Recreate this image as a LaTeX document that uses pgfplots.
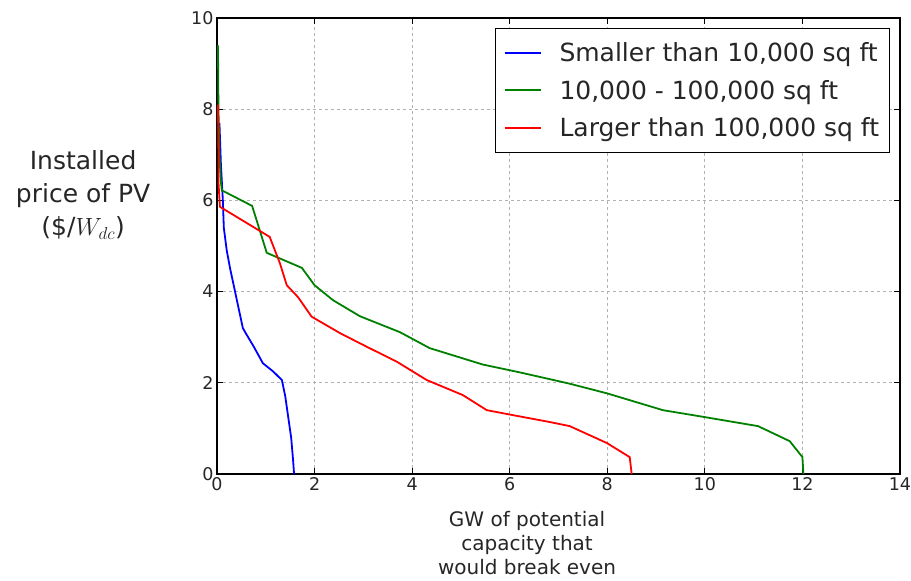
\documentclass[border=0pt]{standalone}
\usepackage{fontspec}
\setmainfont{DejaVu Sans}
\usepackage{pgfplots}
\pgfplotsset{compat=1.18}

\definecolor{mplblue}{rgb}{0,0,1}
\definecolor{mplgreen}{rgb}{0,0.5,0}
\definecolor{mplred}{rgb}{1,0,0}

\begin{document}
\begin{tikzpicture}
  \begin{axis}[
    scale only axis,
    width=683pt, height=456pt,
    xmin=0, xmax=14, ymin=0, ymax=10,
    xtick={0,2,...,14}, ytick={0,2,...,10},
    /pgf/number format/assume math mode=true,
    tick label style={font=\fontsize{17.5}{19}\selectfont, black!85},
    tick align=inside, major tick length=6pt,
    tick style={black, line width=0.8pt},
    axis line style={line width=1.2pt},
    grid=major, grid style={gray!60, dashed, line width=0.8pt},
    xlabel={GW of potential\\capacity that\\would break even},
    xlabel style={font=\fontsize{20}{24}\selectfont, align=center, black!85,
      at={(axis description cs:0.454,-0.152)}, anchor=center},
    ylabel={Installed\\price of PV\\(\$/$W_{dc}$)},
    ylabel style={font=\fontsize{25}{33}\selectfont, align=center, rotate=-90, black!85,
      at={(axis description cs:-0.196,0.612)}, anchor=center},
    legend style={at={(axis description cs:0.985,0.978)}, anchor=north east,
      font=\fontsize{25}{29}\selectfont, draw=black, line width=1.2pt,
      row sep=13pt, inner xsep=8pt, inner ysep=12pt, text=black!85,
      /tikz/every odd column/.append style={column sep=16pt}},
    legend cell align=left,
    legend image code/.code={
      \draw[#1, line width=2pt] (0pt,0pt) -- (36pt,0pt);},
  ]
    \addplot[mplblue, line width=1.8pt] coordinates {
      (0.05,7.7) (0.08,6.8) (0.12,6.0) (0.14,5.4) (0.2,4.9) (0.27,4.5)
      (0.37,4.0) (0.45,3.6) (0.53,3.2) (0.61,3.05) (0.75,2.8) (0.94,2.43)
      (1.15,2.25) (1.33,2.06) (1.4,1.7) (1.46,1.25) (1.52,0.8) (1.56,0.3) (1.58,0)
    };
    \addlegendentry{Smaller than 10,000 sq ft}
    \addplot[mplgreen, line width=1.8pt] coordinates {
      (0.02,9.4) (0.03,8) (0.05,7) (0.08,6.4) (0.1,6.22) (0.72,5.88)
      (1.02,4.85) (1.74,4.52) (2.0,4.14) (2.38,3.81) (2.93,3.46) (3.75,3.11)
      (4.36,2.76) (5.45,2.4) (6.2,2.23) (6.82,2.08) (7.23,1.98) (7.99,1.77)
      (9.14,1.4) (10.04,1.24) (11.09,1.05) (11.74,0.72) (12.0,0.37) (12.02,0)
    };
    \addlegendentry{10,000 - 100,000 sq ft}
    \addplot[mplred, line width=1.8pt] coordinates {
      (0.02,8.1) (0.03,7.0) (0.03,6.4) (0.06,5.86) (1.08,5.2) (1.29,4.62)
      (1.43,4.14) (1.66,3.88) (1.94,3.45) (2.52,3.09) (3.07,2.79) (3.69,2.46)
      (4.3,2.06) (5.04,1.73) (5.53,1.40) (6.07,1.29) (6.82,1.14) (7.23,1.05)
      (7.99,0.68) (8.46,0.37) (8.5,0)
    };
    \addlegendentry{Larger than 100,000 sq ft}
  \end{axis}
  \pgfresetboundingbox
  \path (current axis.south west) ++(-217pt,-107pt) coordinate (bbA);
  \path (current axis.north east) ++(11pt,18pt) coordinate (bbB);
  \useasboundingbox (bbA) rectangle (bbB);
\end{tikzpicture}
\end{document}
